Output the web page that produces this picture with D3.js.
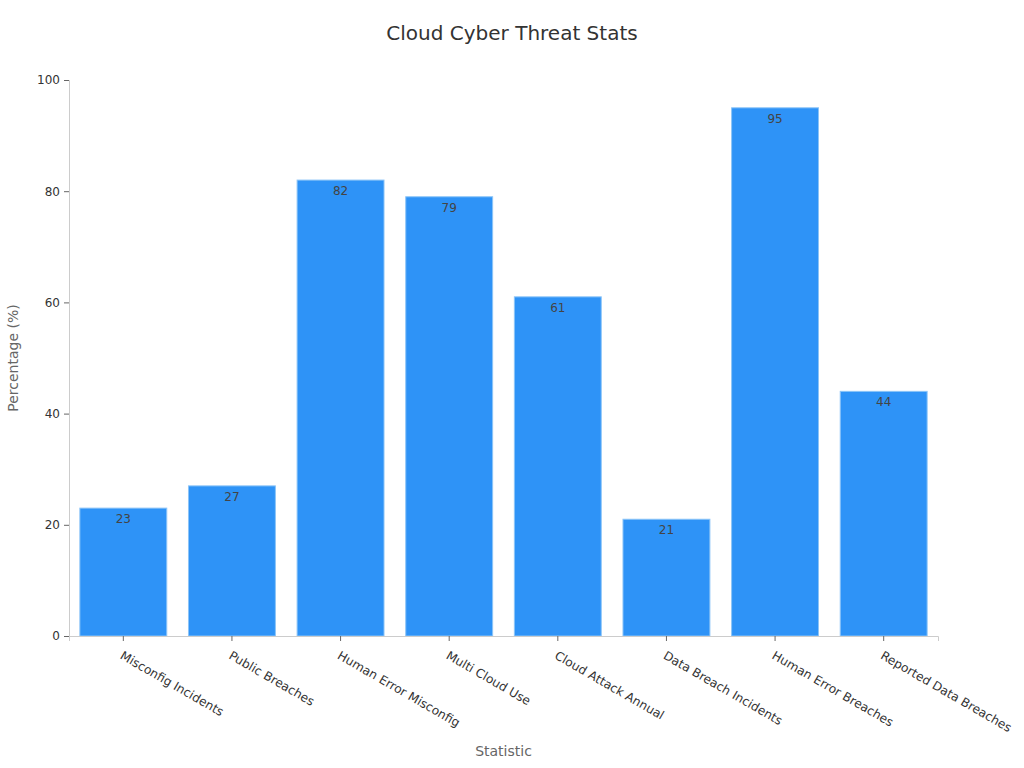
<!DOCTYPE html>
<html>
<head>
<meta charset="utf-8">
<script src="https://cdn.jsdelivr.net/npm/d3@7"></script>
<style>
  body { margin: 0; background: #fff; }
  text { font-family: "DejaVu Sans", sans-serif; }
</style>
</head>
<body>
<div class="canvas"></div>
<script>
// chart data
const categories = ['Misconfig Incidents', 'Public Breaches', 'Human Error Misconfig', 'Multi Cloud Use',
    'Cloud Attack Annual', 'Data Breach Incidents', 'Human Error Breaches', 'Reported Data Breaches'];
const values = [23, 27, 82, 79, 61, 21, 95, 44];
const yTicks = [0, 20, 40, 60, 80, 100];

const width = 1024, height = 768;
const margin = { top: 80, right: 86, bottom: 132, left: 69 };

const svg = d3.select('.canvas')
    .append('svg')
    .attr('width', width)
    .attr('height', height);

// scales
const x = d3.scaleBand()
    .domain(categories)
    .range([margin.left, width - margin.right])
    .paddingInner(0.2)
    .paddingOuter(0.1);

const y = d3.scaleLinear()
    .domain([0, 100])
    .range([height - margin.bottom, margin.top]);

// title
svg.append('text')
    .attr('x', width / 2)
    .attr('y', 40)
    .attr('text-anchor', 'middle')
    .attr('font-size', 20)
    .attr('fill', '#333')
    .text('Cloud Cyber Threat Stats');

// bars
svg.append('g').selectAll('rect')
    .data(values)
    .enter().append('rect')
    .attr('x', (d, i) => x(categories[i]))
    .attr('y', d => y(d))
    .attr('width', x.bandwidth())
    .attr('height', d => y(0) - y(d))
    .attr('fill', '#2e93f7')
    .attr('stroke', '#8cc4f7')
    .attr('stroke-width', 1);

// value labels inside bar tops
svg.append('g').selectAll('text')
    .data(values)
    .enter().append('text')
    .attr('x', (d, i) => x(categories[i]) + x.bandwidth() / 2)
    .attr('y', d => y(d) + 15)
    .attr('text-anchor', 'middle')
    .attr('font-size', 12)
    .attr('fill', '#444')
    .text(d => d);

// x axis
const xAxis = svg.append('g')
    .attr('transform', `translate(0, ${y(0)})`)
    .call(d3.axisBottom(x).tickSizeOuter(0).tickSize(5).tickPadding(6));
xAxis.select('.domain').attr('stroke', '#ccc');
xAxis.selectAll('.tick line').attr('stroke', '#666');
xAxis.selectAll('.tick text')
    .attr('font-size', 12.2)
    .attr('font-family', '"DejaVu Sans", sans-serif')
    .attr('fill', '#333')
    .attr('text-anchor', 'start')
    .attr('x', 0)
    .attr('y', 0)
    .attr('dy', 0)
    .attr('transform', 'translate(-4, 22) rotate(30)');

// y axis
const yAxis = svg.append('g')
    .attr('transform', `translate(${margin.left}, 0)`)
    .call(d3.axisLeft(y).tickValues(yTicks).tickSizeOuter(0).tickSize(5).tickPadding(4));
yAxis.select('.domain').attr('stroke', '#ccc');
yAxis.selectAll('.tick line').attr('stroke', '#666');
yAxis.selectAll('.tick text')
    .attr('font-size', 12)
    .attr('font-family', '"DejaVu Sans", sans-serif')
    .attr('fill', '#333');

// axis titles
svg.append('text')
    .attr('x', (margin.left + width - margin.right) / 2)
    .attr('y', 756)
    .attr('text-anchor', 'middle')
    .attr('font-size', 14)
    .attr('fill', '#666')
    .text('Statistic');

svg.append('text')
    .attr('transform', `translate(18, ${(y(0) + y(100)) / 2}) rotate(-90)`)
    .attr('text-anchor', 'middle')
    .attr('font-size', 14)
    .attr('fill', '#666')
    .text('Percentage (%)');
</script>
</body>
</html>
